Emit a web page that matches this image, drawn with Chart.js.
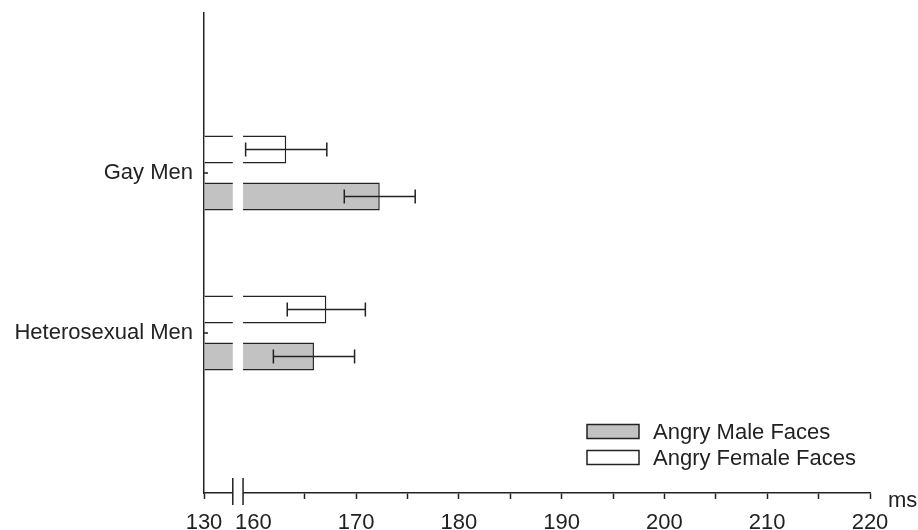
<!DOCTYPE html>
<html>
<head>
<meta charset="utf-8">
<script src="https://cdn.jsdelivr.net/npm/chart.js@4.4.1/dist/chart.umd.min.js"></script>
<style>
    html, body { margin: 0; padding: 0; background: #fff; }
    #wrap { width: 918px; height: 530px; }
</style>
</head>
<body>
<div id="wrap"><canvas id="rtChart"></canvas></div>
<script>
// 数据
const groups = ['Gay Men', 'Heterosexual Men'];
const maleMeans = [172.3, 165.9];
const maleErrors = [3.45, 3.95];
const femaleMeans = [163.2, 167.1];
const femaleErrors = [3.95, 3.8];

// 断轴: 左端画 "130", 160 之前有一段断开
const AXIS_START = 155.2;
const BREAK_FROM = 158.0;
const BREAK_TO = 159.0;
const xTickValues = [AXIS_START, 160, 165, 170, 175, 180, 185, 190, 195, 200, 205, 210, 215, 220];
const xTickLabels = ['130', '160', '', '170', '', '180', '', '190', '', '200', '', '210', '', '220'];

const INK = '#222';
const GRAY = '#c2c2c2';
const FONT = { family: '"Liberation Sans", Arial, sans-serif', size: 22 };

// 断轴、误差线、图例
const extrasPlugin = {
    id: 'extras',
    afterDatasetsDraw(chart) {
        const { ctx, chartArea: a, scales: { x, y } } = chart;
        const x1 = x.getPixelForValue(BREAK_FROM);
        const x2 = x.getPixelForValue(BREAK_TO);
        ctx.save();
        ctx.fillStyle = '#fff';
        ctx.fillRect(x1, a.top, x2 - x1, a.bottom - a.top + 2);
        ctx.strokeStyle = INK;
        ctx.lineWidth = 1.5;
        ctx.beginPath();
        [x1, x2].forEach(px => {
            ctx.moveTo(px, a.bottom - 15);
            ctx.lineTo(px, a.bottom + 12);
        });
        // y轴内侧小刻度
        groups.forEach((g, i) => {
            const py = y.getPixelForValue(i);
            ctx.moveTo(a.left, py);
            ctx.lineTo(a.left + 4, py);
        });
        ctx.stroke();

        // 误差线
        [[0, femaleMeans, femaleErrors], [1, maleMeans, maleErrors]].forEach(([di, means, errs]) => {
            chart.getDatasetMeta(di).data.forEach((bar, i) => {
                const lo = x.getPixelForValue(means[i] - errs[i]);
                const hi = x.getPixelForValue(means[i] + errs[i]);
                ctx.beginPath();
                ctx.moveTo(lo, bar.y); ctx.lineTo(hi, bar.y);
                ctx.moveTo(lo, bar.y - 7); ctx.lineTo(lo, bar.y + 7);
                ctx.moveTo(hi, bar.y - 7); ctx.lineTo(hi, bar.y + 7);
                ctx.stroke();
            });
        });
        ctx.restore();
    },
    afterDraw(chart) {
        const { ctx, chartArea: a } = chart;
        const ds = chart.data.datasets;
        const items = [ds[1], ds[0]];
        ctx.save();
        ctx.font = FONT.size + 'px ' + FONT.family;
        ctx.textBaseline = 'middle';
        ctx.lineWidth = 1.5;
        items.forEach((d, i) => {
            const top = a.bottom - 68.5 + i * 26;
            ctx.fillStyle = d.backgroundColor;
            ctx.fillRect(a.right - 283, top, 52, 14);
            ctx.strokeStyle = INK;
            ctx.strokeRect(a.right - 283, top, 52, 14);
            ctx.fillStyle = INK;
            ctx.fillText(d.label, a.right - 217, top + 8);
        });
        ctx.fillText('ms', a.right + 18, a.bottom + 8);
        ctx.restore();
    }
};

function makeData(means) {
    return means.map((v, i) => ({ x: v, y: i }));
}

const ctx = document.getElementById('rtChart').getContext('2d');
new Chart(ctx, {
    type: 'bar',
    data: {
        datasets: [
            {
                label: 'Angry Female Faces',
                data: makeData(femaleMeans),
                backgroundColor: '#fff',
                borderColor: INK,
                borderWidth: 1.5
            },
            {
                label: 'Angry Male Faces',
                data: makeData(maleMeans),
                backgroundColor: GRAY,
                borderColor: INK,
                borderWidth: 1.5
            }
        ]
    },
    options: {
        responsive: true,
        maintainAspectRatio: false,
        animation: false,
        indexAxis: 'y',
        layout: { padding: { top: 13, right: 48, left: 0, bottom: 0 } },
        datasets: {
            bar: {
                base: AXIS_START,
                categoryPercentage: 0.5875,
                barPercentage: 0.6
            }
        },
        plugins: {
            legend: { display: false },
            tooltip: { enabled: false }
        },
        scales: {
            x: {
                type: 'linear',
                min: AXIS_START,
                max: 220,
                afterBuildTicks: (scale) => {
                    scale.ticks = xTickValues.map(v => ({ value: v }));
                },
                afterFit: (scale) => {
                    scale.height = 37;
                    scale.paddingLeft = 0;
                    scale.paddingRight = 0;
                },
                ticks: {
                    autoSkip: false,
                    maxRotation: 0,
                    padding: 11,
                    color: INK,
                    font: FONT,
                    callback: (value, index) => xTickLabels[index]
                },
                grid: {
                    drawOnChartArea: false,
                    drawTicks: true,
                    tickLength: 6,
                    tickWidth: 1.5,
                    tickColor: (c) => (c.tick && c.tick.value === 160 ? 'transparent' : INK)
                },
                border: { display: true, color: INK, width: 1.5 }
            },
            y: {
                type: 'linear',
                reverse: true,
                offset: false,
                min: -1,
                max: 2,
                afterBuildTicks: (scale) => {
                    scale.ticks = groups.map((g, i) => ({ value: i }));
                },
                afterFit: (scale) => {
                    scale.width = 204;
                    scale.paddingTop = 0;
                    scale.paddingBottom = 0;
                },
                ticks: {
                    autoSkip: false,
                    padding: 11,
                    color: INK,
                    font: FONT,
                    callback: (value) => groups[value]
                },
                grid: { display: false, drawTicks: false },
                border: { display: true, color: INK, width: 1.5 }
            }
        }
    },
    plugins: [extrasPlugin]
});
</script>
</body>
</html>
